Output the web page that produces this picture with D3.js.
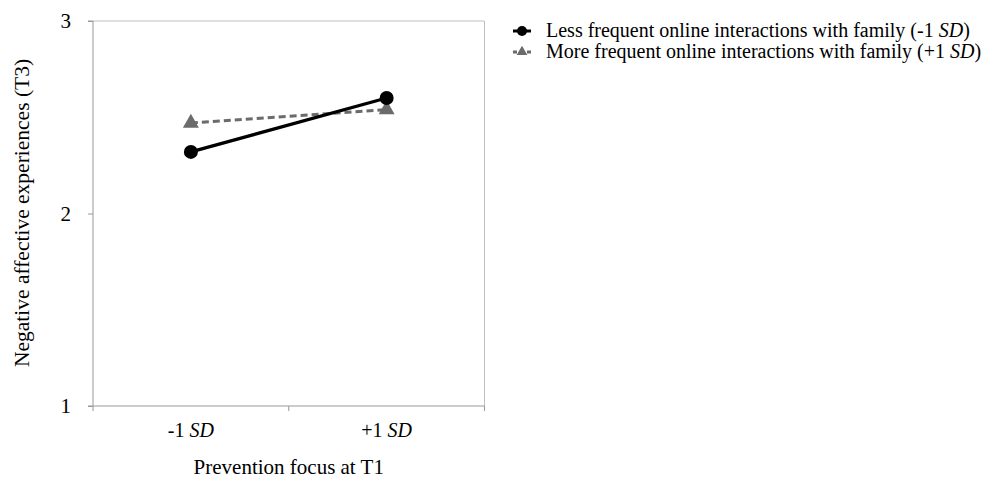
<!DOCTYPE html>
<html><head><meta charset="utf-8">
<script src="https://cdn.jsdelivr.net/npm/d3@7"></script>
<style>body{margin:0;background:#fff}svg{display:block}text{font-family:"Liberation Serif","Times New Roman",serif;fill:#000}</style>
</head><body><svg id="c" width="1006" height="482"></svg>
<script>
const categories = ["-1", "+1"];
const lessFrequent = [2.32, 2.60];
const moreFrequent = [2.47, 2.54];
const yTicks = [1, 2, 3];
const seriesNames = ["Less frequent online interactions with family (-1 ", "More frequent online interactions with family (+1 "];

const svg = d3.select("#c");
const L = 93, T = 21, R = 484.5, B = 406;
const x = d3.scaleBand().domain(categories).range([L, R]);
const y = d3.scaleLinear().domain([1, 3]).range([B, T]);

// box border
svg.append("line").attr("x1", L).attr("x2", R).attr("y1", T).attr("y2", T).attr("stroke", "#c0c0c0");
svg.append("line").attr("x1", R).attr("x2", R).attr("y1", T).attr("y2", B).attr("stroke", "#c0c0c0");

// y axis
const ya = svg.append("g").attr("transform", `translate(${L},0)`)
  .call(d3.axisLeft(y).tickValues(yTicks).tickSize(5).tickPadding(17).tickFormat(d3.format("d")));
ya.select(".domain").attr("stroke", "#999").attr("d", `M-5,${T}H0V${B}H-5`);
ya.selectAll(".tick line").attr("stroke", "#999");
ya.selectAll(".tick text").attr("font-size", 21).attr("font-family", "Liberation Serif").attr("fill", "#000");

// x axis
const xa = svg.append("g").attr("transform", `translate(0,${B})`)
  .call(d3.axisBottom(x).tickSize(0).tickFormat(""));
xa.select(".domain").attr("stroke", "#999").attr("d", `M${L},0H${R}`);
const bounds = [L, (L + R) / 2, R];
xa.selectAll(".bt").data(bounds).enter().append("line").attr("class", "bt")
  .attr("x1", d => d).attr("x2", d => d).attr("y1", 0).attr("y2", 5).attr("stroke", "#999");
categories.forEach(c => {
  const t = svg.append("text").attr("x", x(c) + x.bandwidth() / 2).attr("y", 437)
    .attr("text-anchor", "middle").attr("font-size", 20);
  t.append("tspan").text(c + " ");
  t.append("tspan").attr("font-style", "italic").text("SD");
});

svg.append("text").attr("x", (L + R) / 2).attr("y", 474).attr("text-anchor", "middle")
  .attr("font-size", 21).text("Prevention focus at T1");
svg.append("text").attr("transform", `translate(29,213) rotate(-90)`)
  .attr("text-anchor", "middle").attr("font-size", 21.5).text("Negative affective experiences (T3)");

const cx = c => x(c) + x.bandwidth() / 2;
const line = d3.line().x((d, i) => cx(categories[i])).y(d => y(d));

svg.append("path").datum(moreFrequent).attr("d", line).attr("fill", "none")
  .attr("stroke", "#6b6b6b").attr("stroke-width", 3).attr("stroke-dasharray", "7,4");
svg.append("path").datum(lessFrequent).attr("d", line).attr("fill", "none")
  .attr("stroke", "#000").attr("stroke-width", 3.2);

const tri = d3.symbol().type(d3.symbolTriangle).size(110);
svg.selectAll(".tri").data(moreFrequent).enter().append("path")
  .attr("d", tri).attr("fill", "#6b6b6b")
  .attr("transform", (d, i) => `translate(${cx(categories[i])},${y(d)})`);
svg.selectAll(".dot").data(lessFrequent).enter().append("circle")
  .attr("cx", (d, i) => cx(categories[i])).attr("cy", d => y(d)).attr("r", 7).attr("fill", "#000");

// legend
const lg = svg.append("g");
const rows = [{y: 31, color: "#000", dash: null, sym: "circle"}, {y: 52, color: "#6b6b6b", dash: "4,3", sym: "tri"}];
rows.forEach((r, i) => {
  lg.append("line").attr("x1", 513).attr("x2", 531).attr("y1", r.y).attr("y2", r.y)
    .attr("stroke", r.color).attr("stroke-width", 3).attr("stroke-dasharray", r.dash);
  if (r.sym === "circle") lg.append("circle").attr("cx", 522).attr("cy", r.y).attr("r", 5).attr("fill", r.color);
  else lg.append("path").attr("d", d3.symbol().type(d3.symbolTriangle).size(50)).attr("fill", r.color)
    .attr("transform", `translate(522,${r.y})`);
  const t = lg.append("text").attr("x", 546).attr("y", r.y + 6).attr("font-size", 20);
  t.append("tspan").text(seriesNames[i]);
  t.append("tspan").attr("font-style", "italic").text("SD");
  t.append("tspan").text(")");
});
</script></body></html>
